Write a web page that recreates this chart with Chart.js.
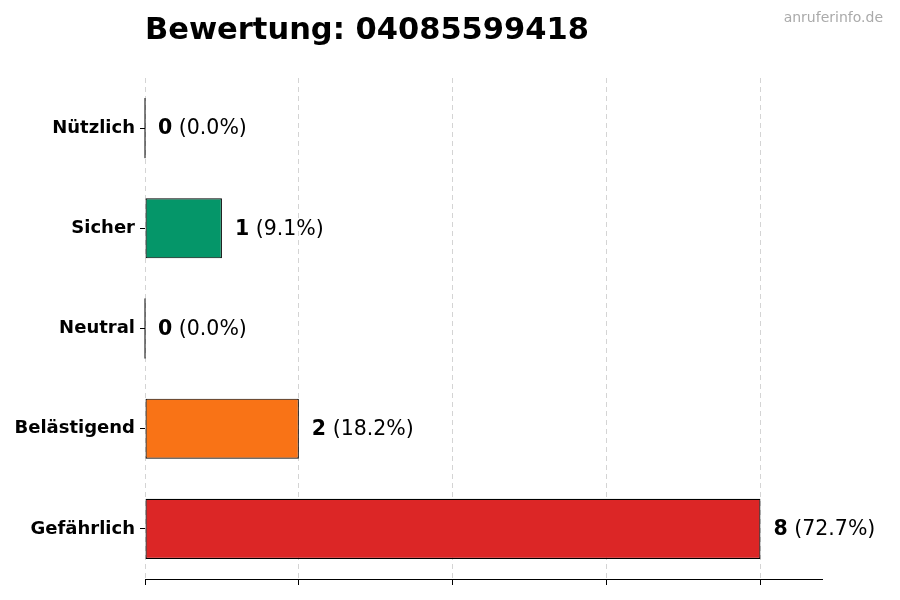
<!DOCTYPE html>
<html>
<head>
<meta charset="utf-8">
<script src="https://cdn.jsdelivr.net/npm/chart.js@4/dist/chart.umd.min.js"></script>
<style>
  html, body { margin: 0; padding: 0; background: #fff; }
  #wrap { width: 900px; height: 600px; position: relative; }
</style>
</head>
<body>
<div id="wrap"><canvas id="myChart"></canvas></div>
<script>
// data
const categories = ['Nützlich', 'Sicher', 'Neutral', 'Belästigend', 'Gefährlich'];
const counts = [0, 1, 0, 2, 8];
const percents = ['0.0%', '9.1%', '0.0%', '18.2%', '72.7%'];
const barColors = ['#6b7280', '#059669', '#9ca3af', '#f97316', '#dc2626'];
const xTicks = [0, 2, 4, 6, 8];
const titleText = 'Bewertung: 04085599418';
const watermark = 'anruferinfo.de';

const FONT = "'DejaVu Sans', sans-serif";

// title, watermark and the value labels next to each bar
const labelPlugin = {
  id: 'labels',
  afterDatasetsDraw(chart) {
    const ctx = chart.ctx;
    const area = chart.chartArea;
    const meta = chart.getDatasetMeta(0);
    ctx.save();
    meta.data.forEach(function (bar, i) {
      const h = bar.height;
      // zero bars only show their black edge
      if (counts[i] === 0) {
        ctx.strokeStyle = '#000';
        ctx.lineWidth = 1;
        ctx.beginPath();
        ctx.moveTo(bar.x, bar.y - h / 2);
        ctx.lineTo(bar.x, bar.y + h / 2);
        ctx.stroke();
      }
      const x = bar.x + 13;
      const y = bar.y + 1;
      ctx.textBaseline = 'middle';
      ctx.fillStyle = '#000';
      ctx.font = 'bold 20.5px ' + FONT;
      const num = String(counts[i]);
      ctx.fillText(num, x, y);
      const w = ctx.measureText(num).width;
      ctx.font = '20.5px ' + FONT;
      ctx.fillText(' (' + percents[i] + ')', x + w, y);
    });

    ctx.font = 'bold 30.5px ' + FONT;
    ctx.fillStyle = '#000';
    ctx.textBaseline = 'middle';
    ctx.fillText(titleText, area.left, 31);

    ctx.font = '14px ' + FONT;
    ctx.fillStyle = '#aaaaaa';
    ctx.textAlign = 'right';
    ctx.fillText(watermark, 883, 18);
    ctx.restore();
  }
};

const data = {
  labels: categories,
  datasets: [{
    data: counts,
    backgroundColor: barColors,
    borderColor: '#000',
    borderWidth: 1.2,
    borderSkipped: false,
    barPercentage: 0.6,
    categoryPercentage: 1.0
  }]
};

const config = {
  type: 'bar',
  data: data,
  options: {
    indexAxis: 'y',
    responsive: true,
    maintainAspectRatio: false,
    animation: false,
    layout: { padding: { top: 78, right: 78, bottom: 15, left: 0 } },
    plugins: {
      legend: { display: false },
      tooltip: { enabled: false }
    },
    scales: {
      x: {
        min: 0,
        max: 8.8,
        z: 1,
        afterBuildTicks: function (scale) {
          scale.ticks = xTicks.map(function (v) { return { value: v }; });
        },
        ticks: { display: false },
        grid: {
          color: '#d4d4d4',
          lineWidth: 1,
          tickColor: '#000',
          tickLength: 6,
          drawTicks: true
        },
        border: { display: true, color: '#000', width: 1, dash: [5, 4] }
      },
      y: {
        afterFit: function (scale) { scale.width = 145; },
        ticks: {
          color: '#000',
          padding: 5,
          font: { family: FONT, size: 18, weight: 'bold' }
        },
        grid: {
          offset: false,
          drawOnChartArea: false,
          tickColor: '#000',
          tickLength: 5
        },
        border: { display: false }
      }
    }
  },
  plugins: [labelPlugin]
};

const myChart = new Chart(document.getElementById('myChart'), config);
</script>
</body>
</html>
